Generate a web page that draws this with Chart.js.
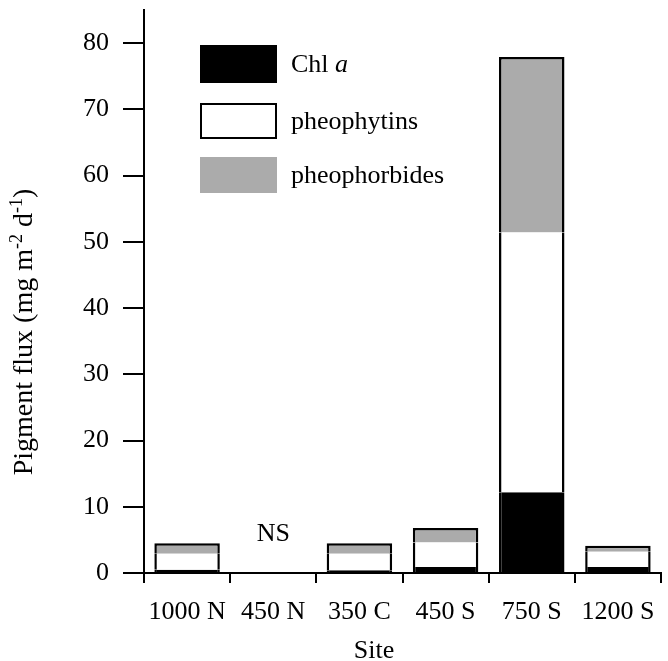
<!DOCTYPE html>
<html><head><meta charset="utf-8">
<script src="https://cdn.jsdelivr.net/npm/chart.js@4"></script>
<style>html,body{margin:0;padding:0;background:#fff}#wrap{width:668px;height:661px}</style>
</head><body><div id="wrap"><canvas id="c" width="668" height="661"></canvas></div>
<script>
const categories = ['1000 N', '450 N', '350 C', '450 S', '750 S', '1200 S'];
const chlA = [0.5, null, 0.4, 0.9, 12.2, 0.9];
const pheophytins = [2.4, null, 2.5, 3.7, 39.2, 2.3];
const pheophorbides = [1.6, null, 1.6, 2.2, 26.5, 0.9];
const seriesLabels = ['Chl a', 'pheophytins', 'pheophorbides'];
const yTicks = [0, 10, 20, 30, 40, 50, 60, 70, 80];
const xTitle = 'Site';
const noSampleLabel = 'NS';
const noSampleCategory = '450 N';
const noSampleY = 4.5;

const FONT = "'Liberation Serif', 'Times New Roman', serif";
const GREY = '#ababab';

const legendPlugin = {
  id: 'customLegend',
  afterDraw(chart) {
    const ctx = chart.ctx;
    const items = [
      {fill: '#000', stroke: '#000', y: 45, h: 38, label: [['Chl ', false], ['a', true]]},
      {fill: '#fff', stroke: '#000', y: 103, h: 36, label: [[seriesLabels[1], false]]},
      {fill: GREY, stroke: null, y: 157, h: 36, label: [[seriesLabels[2], false]]}
    ];
    ctx.save();
    items.forEach(it => {
      ctx.fillStyle = it.fill;
      ctx.fillRect(200, it.y, 77, it.h);
      if (it.stroke) { ctx.strokeStyle = it.stroke; ctx.lineWidth = 2; ctx.strokeRect(201, it.y + 1, 75, it.h - 2); }
      let x = 291;
      ctx.fillStyle = '#000';
      ctx.textBaseline = 'middle';
      ctx.textAlign = 'left';
      it.label.forEach(([t, ital]) => {
        ctx.font = (ital ? 'italic ' : '') + '26px ' + FONT;
        ctx.fillText(t, x, it.y + it.h / 2 + 1);
        x += ctx.measureText(t).width;
      });
    });
    const xs = chart.scales.x, ys = chart.scales.y;
    // NS label
    ctx.font = '26px ' + FONT;
    ctx.textAlign = 'center';
    ctx.textBaseline = 'middle';
    ctx.fillText(noSampleLabel, xs.getPixelForValue(categories.indexOf(noSampleCategory)), ys.getPixelForValue(noSampleY) - 9);
    // X title
    ctx.textBaseline = 'alphabetic';
    ctx.fillText(xTitle, 374, 658);
    // Y title with superscripts
    ctx.save();
    ctx.translate(32, 332);
    ctx.rotate(-Math.PI / 2);
    const parts = [['Pigment flux (mg m', 0], ['-2', 1], [' d', 0], ['-1', 1], [')', 0]];
    let total = 0;
    parts.forEach(([t, s]) => { ctx.font = (s ? '18px ' : '28px ') + FONT; total += ctx.measureText(t).width; });
    let px = -total / 2;
    ctx.textAlign = 'left';
    ctx.textBaseline = 'alphabetic';
    parts.forEach(([t, s]) => {
      ctx.font = (s ? '18px ' : '28px ') + FONT;
      ctx.fillText(t, px, s ? -10 : 0);
      px += ctx.measureText(t).width;
    });
    ctx.restore();
    ctx.restore();
  }
};

const common = {borderColor: '#000', borderSkipped: false, barPercentage: 0.76, categoryPercentage: 1.0, stack: 's'};
new Chart(document.getElementById('c'), {
  type: 'bar',
  data: {
    labels: categories,
    datasets: [
      Object.assign({label: seriesLabels[0], data: chlA, backgroundColor: '#000', borderWidth: {left: 2.5, right: 2.5, top: 0, bottom: 0}}, common),
      Object.assign({label: seriesLabels[1], data: pheophytins, backgroundColor: '#fff', borderWidth: {left: 2.5, right: 2.5, top: 0, bottom: 0}}, common),
      Object.assign({label: seriesLabels[2], data: pheophorbides, backgroundColor: GREY, borderWidth: {left: 2.5, right: 2.5, top: 2.5, bottom: 0}}, common)
    ]
  },
  options: {
    responsive: false,
    animation: false,
    layout: {padding: {top: 10, right: 7, bottom: 0, left: 0}},
    plugins: {legend: {display: false}, tooltip: {enabled: false}},
    scales: {
      x: {
        stacked: true,
        grid: {offset: true, drawOnChartArea: false, drawTicks: true, tickLength: 10, color: '#000', lineWidth: 2},
        border: {display: true, color: '#000', width: 2},
        ticks: {color: '#000', font: {family: FONT, size: 26}, padding: 14, maxRotation: 0},
        afterFit(s) { s.height = 88; s.paddingLeft = 0; s.paddingRight = 0; }
      },
      y: {
        stacked: true,
        min: 0, max: 85,
        afterBuildTicks(s) { s.ticks = yTicks.map(v => ({value: v})); },
        grid: {drawOnChartArea: false, drawTicks: true, tickLength: 21, color: '#000', lineWidth: 2},
        border: {display: true, color: '#000', width: 2},
        ticks: {color: '#000', font: {family: FONT, size: 26}, padding: 14},
        afterFit(s) { s.width = 144; s.paddingTop = 0; s.paddingBottom = 0; }
      }
    }
  },
  plugins: [legendPlugin]
});
</script></body></html>
